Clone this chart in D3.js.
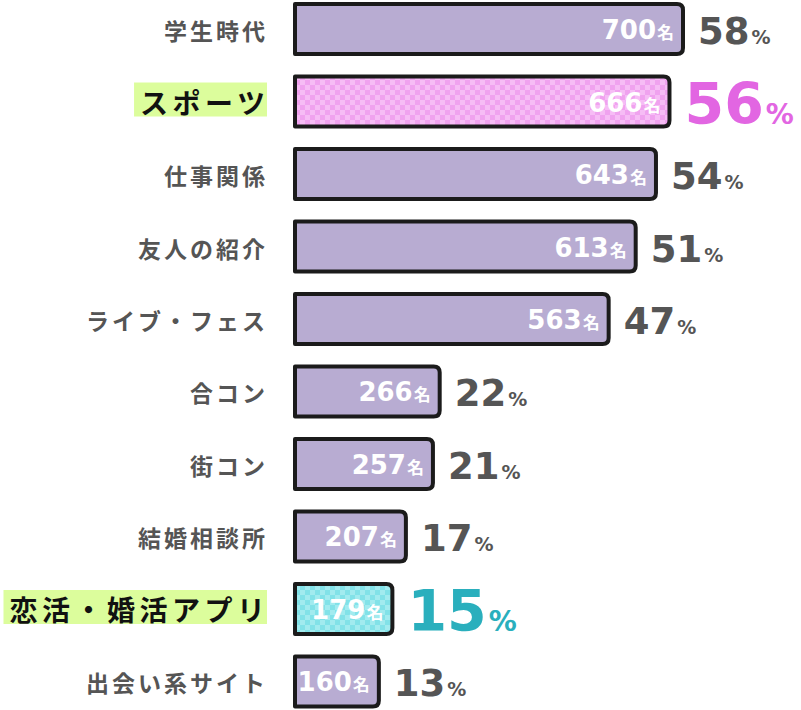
<!DOCTYPE html>
<html><head><meta charset="utf-8">
<script src="https://cdn.jsdelivr.net/npm/d3@7"></script>
<style>
html,body{margin:0;padding:0;background:#fff;}
svg{display:block;}
</style>
</head><body>
<svg id="chart" width="801" height="710"></svg>
<script>
const categories = ["学生時代","スポーツ","仕事関係","友人の紹介","ライブ・フェス","合コン","街コン","結婚相談所","恋活・婚活アプリ","出会い系サイト"];
const counts = [700,666,643,613,563,266,257,207,179,160];
const percents = [58,56,54,51,47,22,21,17,15,13];
const highlighted = ["スポーツ","恋活・婚活アプリ"];
const highlightKind = {"スポーツ":"pink","恋活・婚活アプリ":"teal"};

const svg = d3.select("#chart");
const num = "'DejaVu Sans', sans-serif";
const jp = "'Noto Sans CJK JP', sans-serif";

const x = d3.scaleLinear().domain([0, 58]).range([293, 685]);
const y = d3.scaleBand().domain(categories).range([2, 708.5]).paddingInner(0.255).paddingOuter(0);

const defs = svg.append("defs");
function checker(id, base, light){
  const p = defs.append("pattern").attr("id", id).attr("patternUnits","userSpaceOnUse")
    .attr("width", 10).attr("height", 10);
  p.append("rect").attr("width",10).attr("height",10).attr("fill", base);
  p.append("rect").attr("width",5).attr("height",5).attr("fill", light);
  p.append("rect").attr("x",5).attr("y",5).attr("width",5).attr("height",5).attr("fill", light);
}
checker("pinkCheck", "#f0a2ef", "#f6bcf5");
checker("tealCheck", "#82e2e8", "#a2ebef");

const fillFor = c => highlightKind[c] === "pink" ? "url(#pinkCheck)" : highlightKind[c] === "teal" ? "url(#tealCheck)" : "#b8acd2";
const pctColor = c => highlightKind[c] === "pink" ? "#e266e2" : highlightKind[c] === "teal" ? "#2aafbd" : "#555555";

const rows = categories.map((c,i)=>({cat:c, count:counts[i], pct:percents[i]}));

// category labels
const labG = svg.append("g");
rows.forEach(d=>{
  const cy = y(d.cat) + y.bandwidth()/2;
  const hl = highlighted.includes(d.cat);
  const ls = hl ? 4.5 : 3;
  const fs = hl ? 28 : 23;
  const g = labG.append("g");
  const bg = g.append("rect");
  const t = g.append("text")
    .attr("x", 265 + ls)
    .attr("y", cy + (hl ? 12 : 11))
    .attr("text-anchor","end")
    .attr("font-family", jp)
    .attr("font-weight", 700)
    .attr("font-size", fs)
    .attr("letter-spacing", ls)
    .attr("fill", hl ? "#111111" : "#555555")
    .text(d.cat);
  if (hl) {
    const len = t.node().getComputedTextLength();
    bg.attr("x", 265 + ls - len - 6).attr("width", len + 6 - ls + 2)
      .attr("y", cy - 19).attr("height", 34)
      .attr("fill", "#dcfd9c");
  } else bg.remove();
});

// bars
const r = 8, sw = 4;
function barPath(x0, x1, y0, h){
  const a = x0 + sw/2, b = x1 - sw/2, t = y0 + sw/2, bt = y0 + h - sw/2;
  const rr = r - sw/2;
  return `M${a},${t} L${b-rr},${t} Q${b},${t} ${b},${t+rr} L${b},${bt-rr} Q${b},${bt} ${b-rr},${bt} L${a},${bt} Z`;
}
svg.append("g").selectAll("path").data(rows).join("path")
  .attr("d", d => barPath(x(0), x(d.pct), y(d.cat), y.bandwidth()))
  .attr("fill", d => fillFor(d.cat))
  .attr("stroke", "#1b1b1b")
  .attr("stroke-width", sw)
  .attr("stroke-linejoin","round");

// value labels inside bars
const vl = svg.append("g").selectAll("text").data(rows).join("text")
  .attr("x", d => x(d.pct) - 11)
  .attr("y", d => y(d.cat) + y.bandwidth()/2 + 10)
  .attr("text-anchor","end")
  .attr("fill","#ffffff");
vl.append("tspan").attr("font-family", num).attr("font-weight",700).attr("font-size",26)
  .text(d => d.count);
vl.append("tspan").attr("font-family", jp).attr("font-weight",700).attr("font-size",17).attr("dx",1).text("名");

// percent labels
const pl = svg.append("g").selectAll("text").data(rows).join("text")
  .attr("x", d => x(d.pct) + 13)
  .attr("y", d => y(d.cat) + y.bandwidth()/2 + (highlighted.includes(d.cat) ? 22 : 15))
  .attr("fill", d => pctColor(d.cat));
pl.append("tspan").attr("font-family", num).attr("font-weight",700)
  .attr("font-size", d => highlighted.includes(d.cat) ? 57 : 37)
  .text(d => d.pct);
pl.append("tspan").attr("font-family", num).attr("font-weight",700)
  .attr("font-size", d => highlighted.includes(d.cat) ? 28 : 19)
  .attr("dx", 2)
  .text("%");
</script>
</body></html>
